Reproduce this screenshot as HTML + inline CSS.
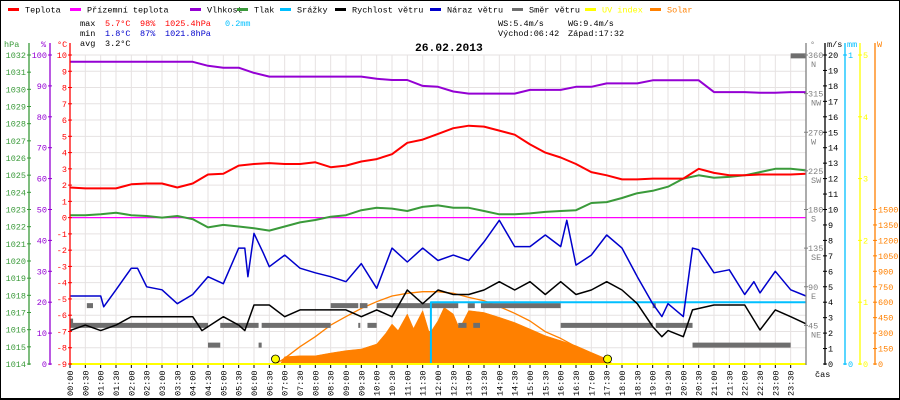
<!DOCTYPE html>
<html><head><meta charset="utf-8">
<style>
html,body{margin:0;padding:0;background:#fff;}
svg{display:block;font-family:"Liberation Mono","DejaVu Sans Mono",monospace;}
</style></head>
<body>
<svg id="chart" width="900" height="400" viewBox="0 0 900 400" xmlns="http://www.w3.org/2000/svg">
<rect x="0" y="0" width="900" height="400" fill="#fff"/>
<rect x="0.5" y="0.5" width="899" height="399" fill="none" stroke="#000" stroke-width="1"/>
<g id="grid"></g>
<g id="series"></g>
<g id="axes"></g>
<g id="legend"></g>
<g id="stats" font-size="8.5">
  <text x="80" y="26" fill="#000">max</text>
  <text x="105" y="26" fill="#f00">5.7°C</text>
  <text x="140" y="26" fill="#f00">98%</text>
  <text x="165" y="26" fill="#f00">1025.4hPa</text>
  <text x="225" y="26" fill="#00bfff">0.2mm</text>
  <text x="80" y="36" fill="#000">min</text>
  <text x="105" y="36" fill="#00c">1.8°C</text>
  <text x="140" y="36" fill="#00c">87%</text>
  <text x="165" y="36" fill="#00c">1021.8hPa</text>
  <text x="80" y="46" fill="#000">avg</text>
  <text x="105" y="46" fill="#000">3.2°C</text>
  <text x="498" y="26" fill="#000">WS:5.4m/s</text>
  <text x="568" y="26" fill="#000">WG:9.4m/s</text>
  <text x="498" y="36" fill="#000">Východ:06:42</text>
  <text x="568" y="36" fill="#000">Západ:17:32</text>
  <text x="415" y="51" fill="#000" font-size="11.3" font-weight="bold">26.02.2013</text>
</g>
</svg>
<script>
// ---- data ----
const halfHours = [0,0.5,1,1.5,2,2.5,3,3.5,4,4.5,5,5.5,6,6.5,7,7.5,8,8.5,9,9.5,10,10.5,11,11.5,12,12.5,13,13.5,14,14.5,15,15.5,16,16.5,17,17.5,18,18.5,19,19.5,20,20.5,21,21.5,22,22.5,23,23.5,24];
const tempC = [1.85,1.8,1.8,1.8,2.05,2.1,2.1,1.85,2.1,2.65,2.7,3.2,3.3,3.35,3.3,3.3,3.4,3.1,3.2,3.45,3.6,3.9,4.6,4.8,5.15,5.5,5.65,5.6,5.35,5.1,4.5,4.0,3.7,3.3,2.8,2.6,2.35,2.35,2.4,2.4,2.4,3.0,2.75,2.6,2.6,2.65,2.65,2.65,2.7];
const humidity = [97.8,97.8,97.8,97.8,97.8,97.8,97.8,97.8,97.8,96.5,95.9,95.9,94.2,93,93,93,93,93,93,93,92.3,91.9,91.9,90,89.7,88.2,87.5,87.5,87.5,87.5,88.7,88.7,88.7,89.7,89.7,90.8,90.8,90.8,91.8,91.8,91.8,91.8,88,88,88,87.8,87.8,88,88];
const pressure = [1022.67,1022.67,1022.72,1022.81,1022.67,1022.62,1022.53,1022.62,1022.44,1021.96,1022.10,1022.01,1021.91,1021.77,1022.01,1022.25,1022.39,1022.58,1022.67,1022.96,1023.10,1023.05,1022.91,1023.15,1023.24,1023.10,1023.10,1022.91,1022.72,1022.72,1022.77,1022.86,1022.91,1022.96,1023.38,1023.43,1023.67,1023.95,1024.09,1024.33,1024.80,1024.99,1024.85,1024.90,1024.99,1025.18,1025.37,1025.37,1025.28];
const feelsT = [0,24];
const feelsV = [0,0];
const gustT = [0,1,1.1,1.5,2,2.2,2.5,3,3.5,4,4.5,5,5.5,5.7,5.8,6,6.3,6.5,7,7.5,8,8.5,9,9.5,10,10.5,11,11.5,12,12.5,13,13.5,14,14.5,15,15.5,16,16.2,16.5,17,17.5,18,18.5,19,19.3,19.5,20,20.3,20.5,21,21.5,22,22.3,22.5,23,23.5,24];
const gustV = [4.4,4.4,3.7,4.8,6.2,6.2,5.0,4.8,3.9,4.5,5.65,5.2,7.5,7.5,5.65,8.45,7.2,6.3,7.05,6.2,5.9,5.65,5.33,6.5,4.9,7.5,6.6,7.5,6.7,7.05,6.7,7.9,9.3,7.6,7.6,8.35,7.6,9.3,6.4,7.05,8.35,7.5,5.65,3.9,3.07,3.9,3.07,7.5,7.4,5.9,6.1,4.5,5.33,4.6,6.0,4.8,4.4];
const windT = [0,0.5,1,1.5,2,3,4,4.3,5,5.5,5.7,6,6.5,7,7.5,8,8.5,9,9.5,10,10.5,11,11.5,12,12.5,13,13.5,14,14.5,15,15.5,16,16.5,17,17.5,18,18.5,19,19.3,19.5,20,20.3,21,21.5,22,22.5,23,23.5,24];
const windV = [2.16,2.52,2.16,2.52,3.06,3.06,3.06,2.16,3.06,2.52,2.16,3.82,3.82,3.06,3.5,3.5,3.5,3.5,3.06,3.5,3.06,4.79,3.9,4.79,4.5,4.5,4.79,5.33,4.79,5.33,4.5,5.33,4.5,4.79,5.33,4.79,3.9,2.42,1.77,2.16,1.77,3.5,3.82,3.82,3.82,2.2,3.5,3.06,2.6];
const dirStart = [0,0,0.55,4.5,4.9,6.15,6.25,8.5,9.4,9.45,9.7,10,12.66,12.97,13.15,13.4,16,19,19.1,20.3,23.5];
const dirEnd   = [4.5,0.1,0.75,4.9,6.15,6.25,8.5,9.4,9.45,9.7,10,12.66,12.93,13.2,13.37,16,19,19.1,20.3,23.5,24];
const dirDeg   = [45,50,68,22,45,22,45,68,45,68,45,68,45,68,45,68,45,68,45,22,359];
const solarT = [6.85,7,7.5,8,8.5,9,9.5,10,10.3,10.5,10.7,11,11.2,11.5,11.7,11.77,12,12.2,12.5,12.7,13,13.5,14,14.5,15,15.5,16,16.5,17,17.5,17.7];
const solarV = [0,71,80,80,107,130,146,194,300,388,325,485,345,518,320,315,420,550,485,345,518,500,453,403,340,275,227,178,113,50,0];
const clearT = [6.7,7,7.5,8,8.5,9,9.5,10,10.5,11,11.5,12,12.5,13,13.5,14,14.5,15,15.5,16,16.5,17,17.5,17.6];
const clearV = [0,55,168,265,378,460,540,605,660,686,702,702,686,647,615,557,492,417,314,249,168,87,13,0];
const rainT = [0,11.77,11.77,24];
const rainV = [0,0,0.2,0.2];
const uvT = [0,24];
const uvV = [0,0];
const sunEvents = [6.7,17.53];
const timeLabels = ["00:00","00:30","01:00","01:30","02:00","02:30","03:00","03:30","04:00","04:30","05:00","05:30","06:00","06:30","07:00","07:30","08:00","08:30","09:00","09:30","10:00","10:30","11:00","11:30","12:00","12:30","13:00","13:30","14:00","14:30","15:00","15:30","16:00","16:30","17:00","17:30","18:00","18:30","19:00","19:30","20:00","20:30","21:00","21:30","22:00","22:30","23:00","23:30"];
const hpaTicks = [1032,1031,1030,1029,1028,1027,1026,1025,1024,1023,1022,1021,1020,1019,1018,1017,1016,1015,1014];
const pctTicks = [100,90,80,70,60,50,40,30,20,10,0];
const tempTicks = [10,9,8,7,6,5,4,3,2,1,0,-1,-2,-3,-4,-5,-6,-7,-8,-9];
const degTicks = [360,315,270,225,180,135,90,45];
const degNames = ["N","NW","W","SW","S","SE","E","NE"];
const msTicks = [20,19,18,17,16,15,14,13,12,11,10,9,8,7,6,5,4,3,2,1,0];
const uvTicks = [5,4,3,2,1,0];
const wTicks = [1500,1350,1200,1050,900,750,600,450,300,150,0];

// ---- scales ----
const L=70,R=806,T=55,B=364;
const X = t => L + t*(R-L)/24;
const yC = c => T + (10-c)*(B-T)/19;
const yP = h => B - (h-1014)*(B-T)/18;
const yH = p => B - p*(B-T)/100;
const yMS = v => B - v*(B-T)/20;
const yDeg = d => B - d*(B-T)/360;
const yW = w => B - w*(B-T)/3000;
const yMM = m => B - m*(B-T)/1;
const yUV = u => B - u*(B-T)/5;

const NS="http://www.w3.org/2000/svg";
function mk(tag, attrs, parent){const e=document.createElementNS(NS,tag);for(const k in attrs)e.setAttribute(k,attrs[k]);parent.appendChild(e);return e;}
const grid=document.getElementById('grid'), series=document.getElementById('series'), axes=document.getElementById('axes'), legend=document.getElementById('legend');

// grid
tempTicks.forEach(c=>{const l=mk('line',{x1:L,x2:R,y1:yC(c),y2:yC(c),stroke:'#e6e2e2','stroke-width':1},grid);

});
timeLabels.forEach((s,i)=>{const t=i*0.5;const l=mk('line',{x1:X(t),x2:X(t),y1:T,y2:B,stroke:'#e6e2e2','stroke-width':1},grid);

});

function pts(ts,vs,fy){return ts.map((t,i)=>X(t).toFixed(1)+','+fy(vs[i]).toFixed(1)).join(' ');}
function line(ts,vs,fy,color,w,name){const p=mk('polyline',{points:pts(ts,vs,fy),fill:'none',stroke:color,'stroke-width':w,'stroke-linejoin':'round'},series);

return p;}

// solar area
{const p=pts(solarT,solarV,yW)+' '+X(solarT[solarT.length-1])+','+B+' '+X(solarT[0])+','+B;
const a=mk('polygon',{points:p,fill:'#ff8000',stroke:'#ff8000','stroke-width':0.5},series);

}
line(clearT,clearV,yW,'#ff8000',1.3,'solar-clear-sky-line');
// direction bars
dirDeg.forEach((d,i)=>{const r=mk('rect',{x:X(dirStart[i]),y:yDeg(d)-2.5,width:Math.max(2,X(dirEnd[i])-X(dirStart[i])),height:5,fill:'#6e6e6e'},series);

});
line(rainT,rainV,yMM,'#00bfff',2,'precipitation-line');
line(feelsT,feelsV,yC,'#ff00ff',1.3,'ground-temp-line');
line(halfHours,humidity,yH,'#9400d3',2,'humidity-line');
line(halfHours,pressure,yP,'#3a9a3a',2,'pressure-line');
line(halfHours,tempC,yC,'#ff0000',2,'temperature-line');
line(gustT,gustV,yMS,'#0000cc',1.5,'wind-gust-line');
line(windT,windV,yMS,'#000000',1.5,'wind-speed-line');
line(uvT,uvV,yUV,'#ffff00',2,'uv-index-line');
sunEvents.forEach((t,i)=>{const c=mk('circle',{cx:X(t),cy:B-5,r:4,fill:'#ffff00',stroke:'#000','stroke-width':0.8},series);

});

// axes
function vaxis(x,color,name){const l=mk('line',{x1:x,x2:x,y1:T-12,y2:B+1,stroke:color,'stroke-width':1.3},axes);

}
function txt(x,y,s,color,anchor,name,size){const t=mk('text',{x:x,y:y,fill:color,'font-size':size||8.5,'text-anchor':anchor||'start'},axes);t.textContent=s;

return t;}
function tick(x,y,color){mk('line',{x1:x-2,x2:x+2,y1:y,y2:y,stroke:color,'stroke-width':1},axes);}

vaxis(29,'#3a9a3a','pressure-axis');
vaxis(50,'#9400d3','humidity-axis');
vaxis(L,'#ff0000','temperature-axis');
vaxis(R,'#808080','direction-axis');
vaxis(825,'#000','wind-speed-axis');
vaxis(845,'#00bfff','precip-axis');
vaxis(860,'#ffff00','uv-axis');
vaxis(875,'#ff8000','solar-axis');
txt(4,47,'hPa','#3a9a3a','start','pressure-axis-title');
txt(41,47,'%','#9400d3','start','humidity-axis-title');
txt(57,47,'°C','#ff0000','start','temperature-axis-title');
txt(810,47,'°','#808080','start','direction-axis-title');
txt(827,47,'m/s','#000','start','wind-speed-axis-title');
txt(847,47,'mm','#00bfff','start','precip-axis-title');
txt(877,47,'W','#ff8000','start','solar-axis-title');
hpaTicks.forEach(h=>{tick(29,yP(h),'#3a9a3a');txt(26,yP(h)+3,String(h),'#3a9a3a','end','pressure-tick-label');});
pctTicks.forEach(p=>{tick(50,yH(p),'#9400d3');txt(47,yH(p)+3,String(p),'#9400d3','end','humidity-tick-label');});
tempTicks.forEach(c=>{tick(L,yC(c),'#ff0000');txt(67,yC(c)+3,String(c),'#ff0000','end','temperature-tick-label');});
degTicks.forEach((d,i)=>{tick(R,yDeg(d),'#808080');txt(808,yDeg(d)+3,String(d),'#808080','start','direction-tick-label');txt(811,yDeg(d)+12,degNames[i],'#808080','start','direction-name-label');});
msTicks.forEach(v=>{tick(825,yMS(v),'#000');txt(828,yMS(v)+3,String(v),'#000','start','wind-speed-tick-label');});
[1,0].forEach(m=>{tick(845,yMM(m),'#00bfff');txt(848,yMM(m)+3,String(m),'#00bfff','start','precip-tick-label');});
uvTicks.forEach(u=>{tick(860,yUV(u),'#ffff00');txt(863,yUV(u)+3,String(u),'#ffff00','start','uv-tick-label');});
wTicks.forEach(w=>{tick(875,yW(w),'#ff8000');txt(878,yW(w)+3,String(w),'#ff8000','start','solar-tick-label');});
timeLabels.forEach((s,i)=>{const x=X(i*0.5);mk('line',{x1:x,x2:x,y1:B+1,y2:B+4,stroke:'#000','stroke-width':1},axes);
const t=mk('text',{x:0,y:0,fill:'#000','font-size':8.5,transform:`translate(${x+3},396) rotate(-90)`},axes);t.textContent=s;

});
txt(815,377,'čas','#000','start','x-axis-title');
{const l=mk('line',{x1:0,x2:900,y1:398.5,y2:398.5,stroke:'#000','stroke-width':1},axes);

}

// legend
const legNames=["Teplota","Přízemní teplota","Vlhkost","Tlak","Srážky","Rychlost větru","Náraz větru","Směr větru","UV index","Solar"];
const legColors=["#ff0000","#ff00ff","#9400d3","#3a9a3a","#00bfff","#000000","#0000cc","#6e6e6e","#ffff00","#ff8000"];
const legX=[8,70,190,237,280,335,430,512,585,650];
legNames.forEach((n,i)=>{const g=mk('g',{},legend);


mk('rect',{x:legX[i],y:8,width:11,height:3,fill:legColors[i]},g);
const t=mk('text',{x:legX[i]+17,y:12.5,fill:(i===8?'#ffff00':(i===9?'#ff8000':'#000')),'font-size':8.5},g);t.textContent=n;});
</script>
</body></html>
